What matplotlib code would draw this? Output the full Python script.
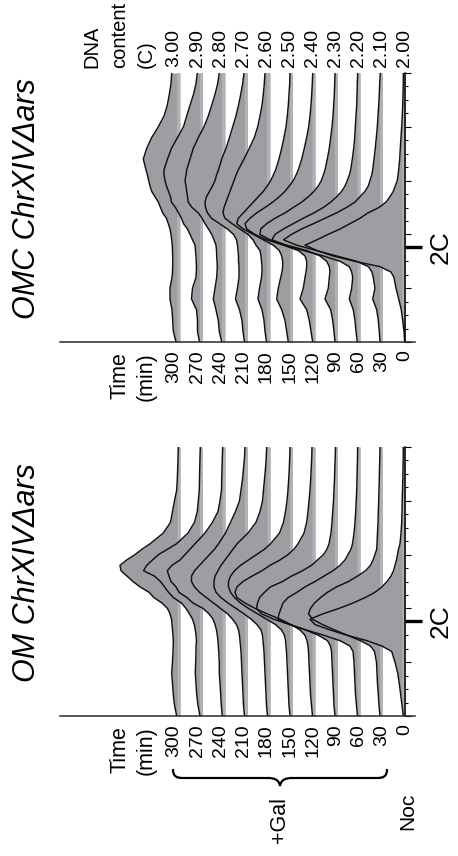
import numpy as np
import matplotlib.pyplot as plt
from matplotlib.path import Path
from matplotlib.patches import PathPatch

plt.rcParams['font.family'] = ['Liberation Sans', 'DejaVu Sans']

# DNA content channel (0-1000) at which every histogram is sampled
dna_ch = [0, 40, 80, 120, 160, 200, 240, 260, 280, 300, 320, 340, 360, 380, 400,
          420, 440, 460, 480, 500, 520, 540, 560, 580, 600, 620, 640, 680, 720,
          760, 800, 840, 880, 920, 960, 1000]

times = [0, 30, 60, 90, 120, 150, 180, 210, 240, 270, 300]
dna_labels = ['2.00', '2.10', '2.20', '2.30', '2.40', '2.50',
              '2.60', '2.70', '2.80', '2.90', '3.00']

# OMC ChrXIV-delta-ars, cell counts per channel
omc_0 = [0.3, 1, 2.3, 3.7, 6.3, 9, 11, 14, 25, 50, 72, 88, 100, 88, 77, 65, 55, 45,
         37, 26, 19, 15, 11.7, 9.7, 7.7, 7, 6.3, 5.3, 4.7, 4, 3.3, 2.7, 2.3, 2, 1.7, 1.7]
omc_30 = [2.5, 3.2, 4.2, 5.8, 9.8, 7.5, 9.2, 10.5, 14, 26, 46, 66, 86, 99, 91, 81, 69,
          57.5, 46, 36, 27.5, 22.5, 17.5, 14.2, 12.5, 10.8, 9.8, 8.5, 7.2, 6.2, 5.2,
          4.5, 3.8, 3.2, 2.8, 2.2]
omc_60 = [2.7, 4, 5, 6.7, 10.7, 8.3, 7.3, 8.3, 10.7, 20, 36.7, 56.7, 75, 88, 85, 76.7,
          66.7, 56.7, 46, 36.7, 29.3, 23.3, 18.3, 15, 12.7, 10.7, 9.3, 7.7, 6.3, 5.3,
          4.7, 4, 3.3, 3, 2.7, 2.3]
omc_90 = [2.5, 3.5, 4.8, 6.8, 12.5, 9.2, 8.2, 7.5, 8.2, 10.8, 17.5, 30.8, 50.8, 67.5,
          77.5, 76.8, 70.8, 62.5, 52.5, 44.2, 35.8, 29.2, 23.5, 19.2, 16.2, 14.2, 12.5,
          10.2, 8.2, 6.8, 5.5, 4.5, 3.8, 3.2, 2.8, 2.5]
omc_120 = [2.3, 4, 5.7, 8.3, 15, 11.7, 10, 9, 8.3, 8.3, 10, 16.7, 31.7, 48.3, 60, 68.3,
           70, 65, 58.3, 50, 42.3, 35.7, 30, 25.7, 21.7, 19, 16.7, 13.3, 10.7, 8.3,
           6.3, 5, 4, 3.3, 2.7, 2.3]
omc_150 = [4.2, 5.8, 7.5, 10.8, 15.8, 14.2, 11.8, 10.5, 9.8, 9.8, 10.8, 13.2, 19.2,
           29.2, 39.2, 49.2, 55.8, 54.2, 49.2, 44.2, 39.2, 34.2, 29.2, 25.2, 21.8,
           19.2, 16.8, 13.5, 10.8, 8.5, 6.5, 5.2, 4.2, 3.5, 2.8, 2.5]
omc_180 = [3.5, 5, 6, 8, 12, 10.5, 8.5, 8, 8, 8.5, 9, 10, 14, 17, 22, 30, 38, 45, 47,
           46, 44, 42, 40, 38, 36, 34, 31.7, 26, 20.7, 15.7, 12.3, 10, 8, 6.7, 5.7, 5]
omc_210 = [3, 4.5, 5.5, 8, 12, 10, 8.5, 8.5, 8.5, 9, 9, 9.5, 10, 11, 14, 20, 28, 36,
           40, 42, 42.5, 41, 38, 35, 32.5, 31, 29, 25.8, 21.5, 18, 14.8, 11.5, 9, 6.8,
           4.8, 3.5]
omc_240 = [3.3, 5.7, 6.7, 9, 11.7, 10, 8.3, 8, 7.7, 8, 8.3, 8.5, 9, 11, 13.3, 16.5,
           20, 23, 26.7, 33, 36.7, 37.5, 38.3, 39, 40, 39, 38.3, 35, 31.7, 26.7, 21,
           16.7, 13.3, 10, 7.3, 5.7]
omc_270 = [3, 5, 5, 6, 11, 10, 6.5, 6.2, 6, 6.3, 6.5, 7, 7.5, 10, 12.5, 15, 19, 21,
           24, 27, 31, 32, 34, 36, 37.5, 38.5, 38.5, 35, 31, 25, 19, 15.8, 12.5, 9,
           6.5, 5.2]
omc_300 = [4, 6.7, 7.3, 8, 10, 10, 8, 7.5, 7.3, 7.3, 7.3, 7.5, 7.7, 8.3, 9, 10, 11.7,
           13.5, 17.3, 19.5, 21.7, 25, 28.3, 30, 31.3, 32.5, 34, 36.7, 33.3, 28.3,
           21.7, 16, 12.7, 10.7, 9, 8.3]

# OM ChrXIV-delta-ars
om_0 = [1.7, 3, 4.3, 5.7, 7.3, 10, 13.3, 23, 38, 58, 75, 90, 95, 82, 66, 52, 40, 30,
        23, 18, 14, 11.5, 10, 8.5, 7.5, 6.5, 5, 4, 3.3, 3, 2.8, 2.5, 2.2, 2, 1.8, 1.7]
om_30 = [2.5, 3.5, 4.2, 5, 5.5, 6, 8, 12, 22, 35, 48, 60, 70, 74, 72, 68, 62, 55, 46,
         34, 25, 17, 12, 9.5, 7.5, 5.8, 5.5, 5, 4.5, 4.2, 3.8, 3.5, 3.2, 3, 2.7, 2.5]
om_60 = [2.5, 3.5, 4.5, 5, 5.5, 6, 7, 10, 20, 36, 54, 70, 82, 81, 79, 77, 72, 63, 55,
         45, 36, 27, 20, 15, 12, 9, 7.5, 6, 5, 4.3, 3.8, 3.3, 3, 2.8, 2.5, 2.3]
om_90 = [2.5, 3.5, 4, 4.5, 5, 5.5, 6, 7, 10, 19, 32, 48, 64, 76, 81, 80, 78, 73, 67,
         55, 46, 35, 26, 20, 14, 10.5, 8.5, 6.5, 5.5, 4.8, 4, 3.5, 3, 2.7, 2.3, 2]
om_120 = [2.5, 3.5, 4.5, 5, 5.5, 6, 6.5, 7, 8, 10, 15, 24, 35, 48, 60, 70, 78, 80, 78,
          72, 63, 53, 45, 35, 27, 21, 17, 11, 8.3, 7, 6, 5, 4.3, 3.8, 3.3, 3]
om_150 = [2.5, 3.5, 4, 4.5, 5, 5.5, 6, 6.5, 7, 8, 11, 17, 26, 35, 44, 52, 58, 62, 64,
          64, 62, 58, 52, 44, 36, 28, 22, 13, 9, 7, 5.5, 4.5, 3.8, 3.2, 2.8, 2.5]
om_180 = [2.5, 3.5, 4, 4.5, 5, 5.5, 6, 6.5, 7, 7.5, 9, 13, 19, 26, 34, 42, 49, 54, 56,
          56, 55, 52, 49, 45, 41, 37, 33, 22, 14, 10, 7.5, 6.5, 5.5, 4.5, 3.8, 3.3]
om_210 = [3, 4, 4.5, 5, 5.5, 6, 6.5, 7, 7.5, 8, 9, 11, 15, 20, 27, 34, 41, 48, 53,
          56, 56, 53, 48, 43, 38, 33, 29, 22, 17, 12, 8, 6.5, 5, 4, 3, 2.5]
om_240 = [2.7, 3.7, 4.3, 5, 5.7, 5.7, 6.3, 6.7, 7, 7.7, 8.5, 10, 12, 16, 22, 32, 38,
          46, 49, 54, 56, 57.7, 53, 45, 40, 35, 30, 20, 12.5, 7, 5, 3.5, 3.3, 3, 2.7,
          2.3]
om_270 = [2.5, 4.5, 5.8, 6.5, 7.2, 6.8, 6.5, 6.5, 6, 6.5, 7.2, 8.2, 10, 13, 16.5, 21,
          29, 34, 38, 42, 48, 59, 55.8, 50, 44, 35, 26, 14.5, 8, 5.2, 4.2, 3.2, 3,
          2.8, 2.5, 2.2]
om_300 = [3.3, 5.5, 6.7, 7.5, 8.3, 7.5, 7, 6.8, 6.7, 7, 7.5, 8, 8.5, 10, 12.5, 18, 26,
          31, 40, 47, 53, 59, 60, 53.3, 45, 38, 30, 16.7, 9.5, 7.5, 5.5, 3.3, 2.7,
          2.3, 2, 1.7]

omc_counts = [omc_0, omc_30, omc_60, omc_90, omc_120, omc_150,
              omc_180, omc_210, omc_240, omc_270, omc_300]
om_counts = [om_0, om_30, om_60, om_90, om_120, om_150,
             om_180, om_210, om_240, om_270, om_300]

W, H = 458, 856
STEP = 22.5           # horizontal offset between stacked histograms
TWO_C = 353           # channel of the 2C peak
FILL = '#9d9ea2'
EDGE = '#b1b2b5'

fig = plt.figure(figsize=(W / 100, H / 100), dpi=100)


def ridge_panel(top, counts, title):
    ax = fig.add_axes([60 / W, 1 - (top + 269) / H, 355 / W, 269 / H])
    ax.set_xlim(-345, 10)
    ax.set_ylim(0, 1000)
    ch = np.array(dna_ch, dtype=float)

    # back (late time points) to front
    for i in range(len(counts) - 1, -1, -1):
        base = -i * STEP
        c = np.array(counts[i], dtype=float)
        ax.fill_betweenx(ch, base - c, base, color=FILL, lw=0)
        ax.fill_betweenx(ch, base - np.minimum(c, 3), base, color=EDGE, lw=0)
    for i in range(len(counts)):
        base = -i * STEP
        ax.plot(base - np.array(counts[i]), ch, color='#111111', lw=1.05)

    for s in ['top', 'left']:
        ax.spines[s].set_visible(False)
    ax.spines['right'].set_position(('data', 0))
    ax.spines['right'].set_linewidth(1.1)
    ax.spines['bottom'].set_linewidth(1.1)
    ax.spines['bottom'].set_color('#2a2a2a')
    ax.set_xticks([])
    ax.yaxis.tick_right()
    ax.set_yticks(np.arange(0, 1001, 200))
    ax.set_yticks(np.arange(0, 1001, 50), minor=True)
    ax.tick_params(axis='y', which='major', length=4.5, width=0.8, labelright=False)
    ax.tick_params(axis='y', which='minor', length=2.5, width=0.8)
    ax.plot([0, 17], [TWO_C, TWO_C], color='black', lw=2.4,
            solid_capstyle='butt', clip_on=False)

    # labels live in pixel coordinates of the page
    bottom = top + 269
    ov.text(27, top + 126, title, rotation=90, style='italic', fontsize=22,
            ha='center', va='center')
    ov.text(441, bottom - 95, '2C', rotation=90, fontsize=19, ha='center', va='center')
    ov.text(125, bottom + 10, 'Time', rotation=90, rotation_mode='anchor',
            ha='right', va='baseline', fontsize=15.5)
    ov.text(152, bottom + 10, '(min)', rotation=90, rotation_mode='anchor',
            ha='right', va='baseline', fontsize=15.5)
    xs = np.linspace(174, 405, len(times))
    for x, t in zip(xs, times[::-1]):
        ov.text(x, bottom + 8, str(t), rotation=90, rotation_mode='anchor',
                ha='right', va='center', fontsize=14)
    return ax


ov = fig.add_axes([0, 0, 1, 1], zorder=5)
ov.set_xlim(0, W)
ov.set_ylim(H, 0)
ov.axis('off')
ov.patch.set_alpha(0)

ridge_panel(73, omc_counts, 'OMC ChrXIV\u0394ars')
ridge_panel(447, om_counts, 'OM ChrXIV\u0394ars')

# DNA content header above the top panel
for x, s in [(97, 'DNA'), (125, 'content'), (152, '(C)')]:
    ov.text(x, 68, s, rotation=90, rotation_mode='anchor', ha='left',
            va='baseline', fontsize=14.5)
for x, s in zip(np.linspace(174, 405, len(dna_labels)), dna_labels[::-1]):
    ov.text(x, 67, s, rotation=90, rotation_mode='anchor', ha='left',
            va='center', fontsize=14)

# brace grouping the galactose time points
verts = [(173, 769), (173, 776), (176, 778), (183, 778), (268, 778),
         (275, 778), (279, 780), (280, 786), (281, 780), (285, 778), (292, 778),
         (377, 778), (384, 778), (387, 776), (387, 769)]
codes = [Path.MOVETO, Path.CURVE4, Path.CURVE4, Path.CURVE4, Path.LINETO,
         Path.CURVE4, Path.CURVE4, Path.CURVE4, Path.CURVE4, Path.CURVE4, Path.CURVE4,
         Path.LINETO, Path.CURVE4, Path.CURVE4, Path.CURVE4]
ov.add_patch(PathPatch(Path(verts, codes), fill=False, lw=1.6, color='black'))
ov.text(280, 820, '+Gal', rotation=90, fontsize=15.5, ha='center', va='center')
ov.text(408, 811, 'Noc', rotation=90, fontsize=15, ha='center', va='center')

fig.savefig('out.png', dpi=100)
